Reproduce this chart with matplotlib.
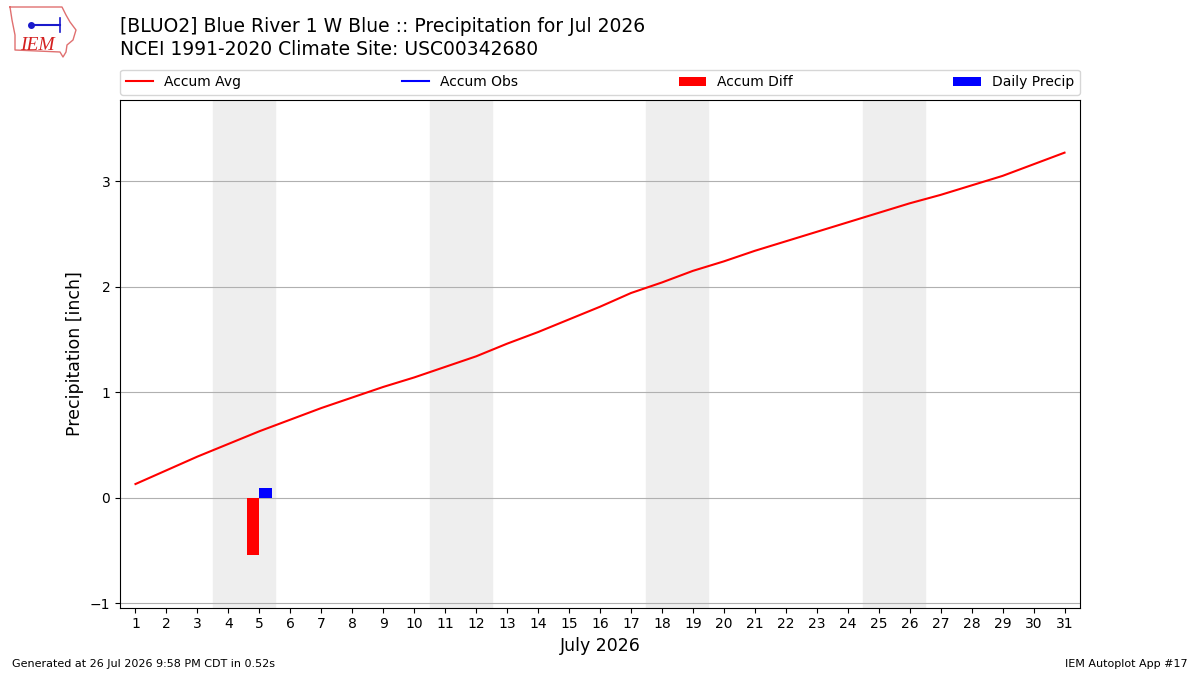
import numpy as np
import matplotlib
matplotlib.use("Agg")
import matplotlib.pyplot as plt

# data
days = list(range(1, 32))
accum_avg = [0.13, 0.26, 0.39, 0.51, 0.63, 0.74, 0.85, 0.95, 1.05, 1.14,
             1.24, 1.34, 1.46, 1.57, 1.69, 1.81, 1.94, 2.04, 2.15, 2.24,
             2.34, 2.43, 2.52, 2.61, 2.70, 2.79, 2.87, 2.96, 3.05, 3.16, 3.27]
obs_days = [5]
accum_obs = [0.09]
daily_precip = [0.09]
accum_diff = [-0.54]
weekends = [(4, 5), (11, 12), (18, 19), (25, 26)]

fig = plt.figure(figsize=(12, 6.75), dpi=100)
ax = fig.add_axes([0.1, 0.1, 0.8, 0.752])

for a, b in weekends:
    ax.axvspan(a - 0.5, b + 0.5, color="#eeeeee", zorder=0)

ax.plot(days, accum_avg, color="r", label="Accum Avg", zorder=3)
ax.plot(obs_days, accum_obs, color="b", label="Accum Obs", zorder=3)
ax.bar(np.array(obs_days) - 0.2, accum_diff, width=0.4, color="r",
       label="Accum Diff", zorder=3)
ax.bar(np.array(obs_days) + 0.2, daily_precip, width=0.4, color="b",
       label="Daily Precip", zorder=3)

ax.set_xlim(0.5, 31.5)
ax.set_ylim(min(accum_diff) - 0.5, max(accum_avg) + 0.5)
ax.set_xticks(days)
ax.set_yticks([-1, 0, 1, 2, 3])
ax.yaxis.grid(True, color="#b0b0b0", zorder=1)
ax.set_axisbelow(True)
ax.set_ylabel("Precipitation [inch]", fontsize=12.5)
ax.set_xlabel("July 2026", fontsize=12.5)

ax.legend(loc="lower left", bbox_to_anchor=(0, 1.01, 1, 0.05), ncol=4,
          mode="expand", borderaxespad=0, fontsize=10)

fig.text(0.1, 0.975, "[BLUO2] Blue River 1 W Blue :: Precipitation for Jul 2026\n"
         "NCEI 1991-2020 Climate Site: USC00342680", fontsize=13.5, va="top",
         linespacing=1.25)
fig.text(0.01, 0.012, "Generated at 26 Jul 2026 9:58 PM CDT in 0.52s", fontsize=8)
fig.text(0.99, 0.012, "IEM Autoplot App #17", fontsize=8, ha="right")

# rough logo: state outline, station glyph, IEM text (pixel coords -> figure)
W, H = 1200.0, 675.0
ox = [10, 62, 66, 70, 76, 73, 67, 66, 63, 60, 15, 15, 12, 10]
oy = [7, 7, 15, 22, 30, 40, 45, 52, 57, 52, 50, 35, 20, 7]
fig.add_artist(plt.Line2D([x / W for x in ox], [1 - y / H for y in oy],
                          color="#e07070", lw=1))
fig.add_artist(plt.Line2D([31 / W, 60 / W], [1 - 25 / H, 1 - 25 / H],
                          color="#1a1acc", lw=1.5))
fig.add_artist(plt.Line2D([31 / W], [1 - 25 / H], marker="o", ms=4,
                          color="#1a1acc"))
fig.add_artist(plt.Line2D([60 / W, 60 / W], [1 - 18 / H, 1 - 32 / H],
                          color="#1a1acc", lw=1.2))
fig.text(37 / W, 1 - 45 / H, "IEM", fontsize=14, color="#d42020", style="italic",
         family="Liberation Serif", ha="center", va="center")

fig.savefig("out.png")
